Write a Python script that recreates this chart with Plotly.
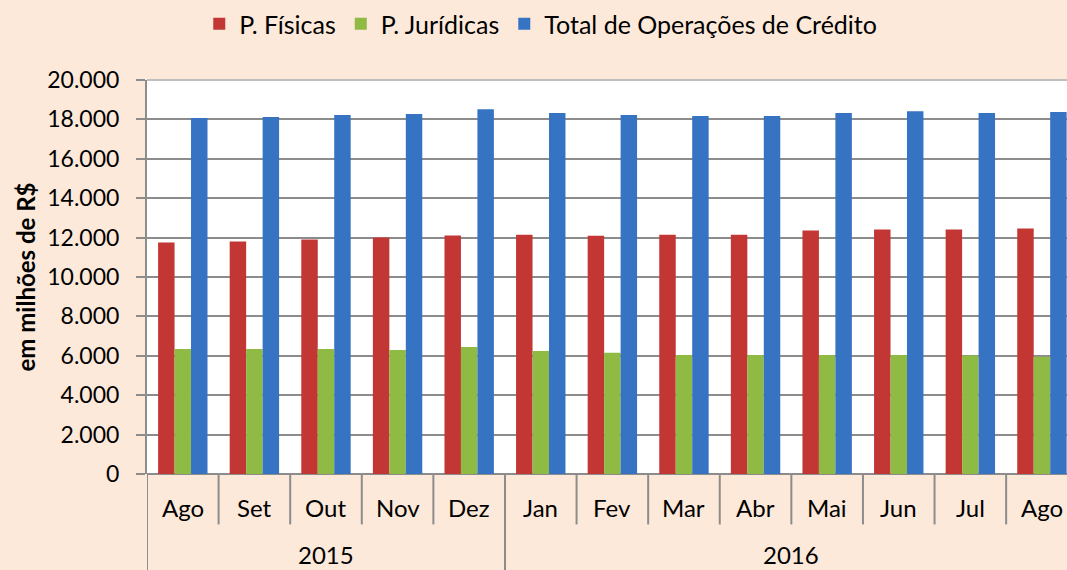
import plotly.graph_objects as go

months = ["Ago", "Set", "Out", "Nov", "Dez", "Jan", "Fev", "Mar", "Abr", "Mai", "Jun", "Jul", "Ago"]
years = ["2015", "2016"]
year_spans = [(0, 4), (5, 12)]
pf = [11750, 11800, 11900, 12000, 12110, 12150, 12100, 12150, 12150, 12360, 12410, 12410, 12460]
pj = [6350, 6350, 6350, 6300, 6450, 6250, 6150, 6040, 6040, 6040, 6040, 6010, 5950]
total = [18070, 18120, 18220, 18270, 18520, 18320, 18220, 18170, 18170, 18320, 18420, 18320, 18370]
yticks = [0, 2000, 4000, 6000, 8000, 10000, 12000, 14000, 16000, 18000, 20000]
ytick_text = ["0", "2.000", "4.000", "6.000", "8.000", "10.000", "12.000", "14.000", "16.000", "18.000", "20.000"]

FONT = "Lato"
xs = list(range(len(months)))

fig = go.Figure()
fig.add_trace(go.Bar(x=xs, y=pf, name="P. Físicas", marker=dict(color="#c23634", line=dict(width=0))))
fig.add_trace(go.Bar(x=xs, y=pj, name="P. Jurídicas", marker=dict(color="#8fba44", line=dict(width=0))))
fig.add_trace(go.Bar(x=xs, y=total, name="Total de Operações de Crédito", marker=dict(color="#3673c2", line=dict(width=0))))

shapes = []
for k in range(len(months) + 1):
    xpos = k - 0.5
    if xpos > 12.35:
        continue
    is_year = (k == 0 or k == 5)
    shapes.append(dict(type="line", xref="x", yref="paper", x0=xpos, x1=xpos,
                       y0=0, y1=-0.25 if is_year else -0.128,
                       line=dict(color="#8c8c8c", width=2)))
shapes.append(dict(type="line", xref="paper", yref="paper", x0=0, x1=1, y0=1, y1=1,
                   line=dict(color="#bfbfbf", width=2)))

annotations = []
for i, m in enumerate(months):
    annotations.append(dict(x=i, y=-0.086, xref="x", yref="paper", text=m, showarrow=False,
                            font=dict(family=FONT, size=24, color="#000"), yanchor="middle"))
for yr, (a, b) in zip(years, year_spans):
    cx = (a + b) / 2
    annotations.append(dict(x=cx, y=-0.2436, xref="x", yref="paper", text=yr, showarrow=False,
                            font=dict(family=FONT, size=24, color="#000"), yanchor="bottom",
                            borderpad=0))

fig.update_layout(
    width=1067, height=570,
    margin=dict(l=147, r=0, t=80, b=96),
    paper_bgcolor="#fde9d9",
    plot_bgcolor="#ffffff",
    barmode="group", bargap=0.31, bargroupgap=0,
    font=dict(family=FONT, size=21, color="#000"),
    legend=dict(orientation="h", x=0.428, xanchor="center", y=1.142, yanchor="middle",
                font=dict(family=FONT, size=25, color="#000"), itemwidth=30,
                bgcolor="rgba(0,0,0,0)"),
    xaxis=dict(range=[-0.5, 12.35], showticklabels=False, showgrid=False, zeroline=False,
               ticks="", showline=False, fixedrange=True),
    yaxis=dict(range=[0, 20000], tickvals=yticks, ticktext=ytick_text,
               showgrid=True, gridcolor="#8c8c8c", gridwidth=2,
               ticks="outside", ticklen=9, tickwidth=2, tickcolor="#8c8c8c",
               ticklabelstandoff=12,
               showline=True, linecolor="#8c8c8c", linewidth=2,
               zeroline=True, zerolinecolor="#8c8c8c", zerolinewidth=2,
               tickfont=dict(family=FONT, size=23, color="#000"),
               title=dict(text="<b>em milhões de R$</b>", font=dict(family=FONT, size=24, color="#000"),
                          standoff=5)),
    shapes=shapes,
    annotations=annotations,
    showlegend=True,
)

fig.write_html("out.html", config={"displayModeBar": False},
               post_script="document.body.style.margin='0';document.body.style.background='#fde9d9';document.body.style.overflow='hidden';")
